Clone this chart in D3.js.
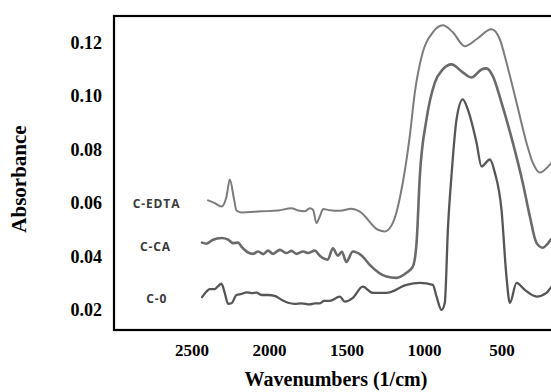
<!DOCTYPE html>
<html>
<head>
<meta charset="utf-8">
<script src="https://cdn.jsdelivr.net/npm/d3@7"></script>
<style>
  body { margin: 0; background: #fff; }
  svg { display: block; }
</style>
</head>
<body>
<div id="chart"></div>
<script>
// spectra: [wavenumber (1/cm), absorbance]
const cEdta = [
  [2393, 0.0610], [2350, 0.0600], [2307, 0.0587], [2274, 0.0625], [2253, 0.0688],
  [2225, 0.0613], [2210, 0.0572], [2178, 0.0565], [2049, 0.0569], [1941, 0.0572],
  [1855, 0.0581], [1812, 0.0572], [1769, 0.0569], [1737, 0.0581], [1716, 0.0575],
  [1694, 0.0525], [1672, 0.0550], [1651, 0.0578], [1608, 0.0573], [1543, 0.0571],
  [1468, 0.0579], [1414, 0.0568], [1296, 0.0500], [1253, 0.0494], [1201, 0.0526],
  [1137, 0.0676], [1092, 0.0850], [1059, 0.1014], [1008, 0.1164], [943, 0.1239],
  [879, 0.1265], [814, 0.1239], [737, 0.1187], [661, 0.1213], [565, 0.1250],
  [511, 0.1213], [468, 0.1126], [403, 0.0976], [339, 0.0826], [298, 0.0751],
  [253, 0.0714], [188, 0.0744], [150, 0.0770]
];
const cCa = [
  [2432, 0.0452], [2403, 0.0448], [2361, 0.0463], [2307, 0.0469], [2264, 0.0463],
  [2232, 0.0450], [2199, 0.0452], [2178, 0.0437], [2135, 0.0415], [2103, 0.0410],
  [2070, 0.0419], [2038, 0.0409], [2006, 0.0422], [1974, 0.0410], [1930, 0.0425],
  [1887, 0.0413], [1855, 0.0421], [1823, 0.0410], [1780, 0.0419], [1748, 0.0413],
  [1705, 0.0422], [1672, 0.0403], [1651, 0.0394], [1621, 0.0388], [1588, 0.0431],
  [1556, 0.0403], [1530, 0.0418], [1501, 0.0380], [1459, 0.0419], [1401, 0.0403],
  [1350, 0.0369], [1242, 0.0325], [1177, 0.0320], [1113, 0.0339], [1072, 0.0362],
  [1048, 0.0451], [1027, 0.0700], [984, 0.0913], [930, 0.1051], [879, 0.1100],
  [823, 0.1119], [750, 0.1089], [694, 0.1070], [629, 0.1100], [597, 0.1104],
  [556, 0.1075], [500, 0.0976], [427, 0.0826], [363, 0.0676], [317, 0.0550],
  [274, 0.0451], [234, 0.0433], [182, 0.0463], [150, 0.0490]
];
const c0 = [
  [2432, 0.0248], [2403, 0.0269], [2382, 0.0278], [2350, 0.0278], [2332, 0.0287],
  [2307, 0.0298], [2285, 0.0263], [2264, 0.0223], [2242, 0.0225], [2210, 0.0256],
  [2178, 0.0260], [2145, 0.0266], [2113, 0.0263], [2081, 0.0265], [2049, 0.0256],
  [2006, 0.0256], [1963, 0.0253], [1919, 0.0238], [1877, 0.0227], [1834, 0.0223],
  [1790, 0.0225], [1737, 0.0221], [1705, 0.0225], [1672, 0.0225], [1645, 0.0234],
  [1608, 0.0234], [1543, 0.0250], [1511, 0.0231], [1459, 0.0245], [1395, 0.0287],
  [1330, 0.0264], [1242, 0.0264], [1113, 0.0294], [1027, 0.0301], [943, 0.0294],
  [919, 0.0250], [887, 0.0200], [866, 0.0226], [845, 0.0512], [823, 0.0700],
  [790, 0.0913], [750, 0.0988], [717, 0.0950], [661, 0.0826], [629, 0.0737],
  [575, 0.0763], [543, 0.0714], [500, 0.0575], [468, 0.0325], [446, 0.0226],
  [403, 0.0301], [350, 0.0275], [274, 0.0250], [210, 0.0264], [182, 0.0283],
  [150, 0.0300]
];

const seriesNames = ['C-EDTA', 'C-CA', 'C-0'];
const seriesData = [cEdta, cCa, c0];
const xTicks = [2500, 2000, 1500, 1000, 500];
const yTicks = [0.02, 0.04, 0.06, 0.08, 0.10, 0.12];

const width = 551, height = 392;
const margin = { left: 114, top: 16, right: 579, bottom: 330 };

const svg = d3.select('#chart').append('svg')
  .attr('width', width)
  .attr('height', height);

const x = d3.scaleLinear().domain([3000, 0]).range([margin.left, margin.right]);
const y = d3.scaleLinear().domain([0.0125, 0.130]).range([margin.bottom, margin.top]);

svg.append('clipPath').attr('id', 'plot-clip')
  .append('rect')
  .attr('x', margin.left).attr('y', margin.top)
  .attr('width', margin.right - margin.left)
  .attr('height', margin.bottom - margin.top);

const serif = '"Liberation Serif", "Times New Roman", serif';

// axes: labels only, no tick marks
const xAxis = d3.axisBottom(x).tickValues(xTicks).tickSize(0).tickPadding(14)
  .tickFormat(d3.format('d'));
const yAxis = d3.axisLeft(y).tickValues(yTicks).tickSize(0).tickPadding(12)
  .tickFormat(d3.format('.2f'));

const gX = svg.append('g').attr('transform', `translate(0,${margin.bottom})`).call(xAxis);
const gY = svg.append('g').attr('transform', `translate(${margin.left},0)`).call(yAxis);
[gX, gY].forEach((g, i) => {
  g.select('.domain').remove();
  g.selectAll('text')
    .style('font-family', serif)
    .style('font-weight', 'bold')
    .style('font-size', i === 0 ? '17px' : '18px')
    .attr('fill', '#000');
});

// spectra (points are ordered left to right on screen, so monotoneX is safe)
const line = d3.line()
  .x(d => x(d[0]))
  .y(d => y(d[1]))
  .curve(d3.curveMonotoneX);

const colors = ['#7c7c7c', '#6a6a6a', '#565656'];
const widths = [2, 2.6, 2.3];

svg.append('g').attr('clip-path', 'url(#plot-clip)')
  .selectAll('path')
  .data(seriesData)
  .enter()
  .append('path')
  .attr('d', line)
  .attr('fill', 'none')
  .attr('stroke', (_, i) => colors[i])
  .attr('stroke-width', (_, i) => widths[i])
  .attr('stroke-linejoin', 'round')
  .attr('stroke-linecap', 'round');

// series labels next to each trace
const labelPos = [[156.5, 0.0600], [155.5, 0.0436], [156.7, 0.0243]];
svg.append('g')
  .selectAll('text')
  .data(seriesNames)
  .enter()
  .append('text')
  .attr('x', (_, i) => labelPos[i][0])
  .attr('y', (_, i) => y(labelPos[i][1]))
  .attr('text-anchor', 'middle')
  .attr('dominant-baseline', 'central')
  .style('font-family', '"Open Sans", "DejaVu Sans", sans-serif')
  .style('font-weight', 'bold')
  .style('font-size', '12px')
  .style('letter-spacing', '0.9px')
  .attr('fill', '#3a3a3a')
  .text(d => d);

// frame
svg.append('rect')
  .attr('x', margin.left).attr('y', margin.top)
  .attr('width', margin.right - margin.left)
  .attr('height', margin.bottom - margin.top)
  .attr('fill', 'none')
  .attr('stroke', '#000')
  .attr('stroke-width', 2.2);

// titles
svg.append('text')
  .attr('x', 336).attr('y', 386)
  .attr('text-anchor', 'middle')
  .style('font-family', serif)
  .style('font-weight', 'bold')
  .style('font-size', '20px')
  .text('Wavenumbers (1/cm)');

svg.append('text')
  .attr('transform', 'translate(26,179) rotate(-90)')
  .attr('text-anchor', 'middle')
  .style('font-family', serif)
  .style('font-weight', 'bold')
  .style('font-size', '21px')
  .text('Absorbance');
</script>
</body>
</html>
